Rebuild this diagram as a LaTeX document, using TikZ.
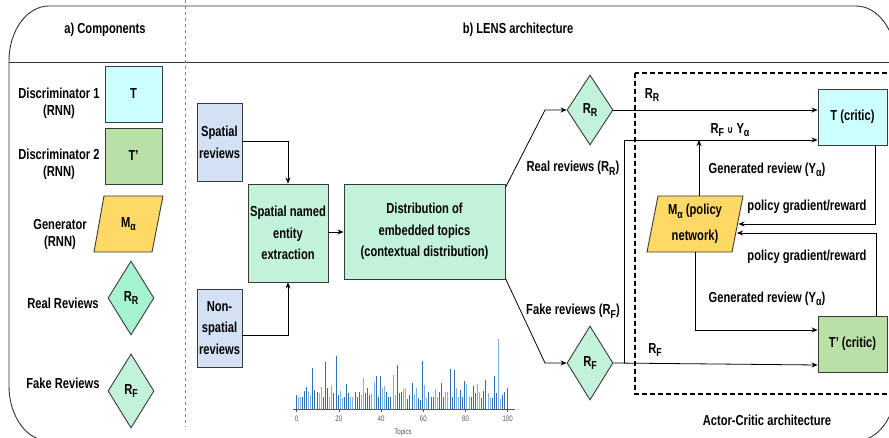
\documentclass[tikz,border=0pt]{standalone}
\usepackage{fontspec}
\setmainfont{Liberation Sans}[FakeStretch=0.77]
\newfontfamily\djv{DejaVu Sans}[FakeStretch=0.77]
\usetikzlibrary{shapes.geometric,arrows.meta,calc}

\definecolor{cyanc}{HTML}{CCFFFF}
\definecolor{greenc}{HTML}{B9E0A5}
\definecolor{yellowc}{HTML}{FFD966}
\definecolor{rrc}{HTML}{A6F3CF}
\definecolor{mintc}{HTML}{C3F2DA}
\definecolor{bluec}{HTML}{D4E1F5}
\definecolor{bordc}{HTML}{3A3A3A}
\definecolor{framec}{HTML}{333333}
\definecolor{barA}{HTML}{2E6FB7}
\definecolor{barB}{HTML}{4F91D2}
\definecolor{barC}{HTML}{7FB3E6}
\definecolor{axisc}{HTML}{555555}

\newcommand\subs[1]{\raisebox{-3.5pt}{\fontsize{11.5}{12}\selectfont #1}}

\tikzset{
  every node/.style={font=\bfseries\fontsize{14.5}{17}\selectfont, inner sep=0pt},
  lbl/.style={align=center},
  boxed/.style={draw=bordc, line width=0.9pt, align=center, font=\bfseries\fontsize{14.5}{21.7}\selectfont},
  dia/.style={diamond, draw=bordc, line width=0.9pt, fill=mintc},
  arr/.style={draw=black, line width=0.8pt, -{Stealth[length=6pt,width=5pt]}},
  para/.style={draw=bordc, line width=0.9pt, fill=yellowc},
  ticklbl/.style={font=\fontsize{8}{8}\selectfont, text=axisc}
}

\begin{document}
\begin{tikzpicture}[x=1pt,y=-1pt]
\useasboundingbox (0,0) rectangle (889,438);
\clip (0,0) rectangle (889,438);

% outer frame
\draw[framec, line width=0.9pt] (49,6) -- (856,6)
  .. controls (878.1,6) and (896,30.6) .. (896,61) -- (896,386)
  .. controls (896,416.4) and (878.1,441) .. (856,441) -- (49,441)
  .. controls (26.9,441) and (9,416.4) .. (9,386) -- (9,61)
  .. controls (9,30.6) and (26.9,6) .. (49,6) -- cycle;
\draw[framec, line width=0.9pt] (9,62) -- (896,62);
\draw[gray, line width=0.6pt, dash pattern=on 3pt off 3pt] (185.5,0) -- (185.5,427);

% headers
\node[lbl] (hA) at (105,30) {a) Components};
\node[lbl] (hB) at (518,30) {b) LENS architecture};

% components
\node[lbl] (l1) at (59,103.5) {Discriminator 1\\(RNN)};
\node[lbl] (l2) at (59,164) {Discriminator 2\\(RNN)};
\node[lbl] (l3) at (60,234) {Generator\\(RNN)};
\node[lbl] (l4) at (63,303) {Real Reviews};
\node[lbl] (l5) at (63,383) {Fake Reviews};

\node[boxed, fill=cyanc, minimum width=57pt, minimum height=56pt] (cT) at (133.5,94) {T};
\node[boxed, fill=greenc, minimum width=57pt, minimum height=56pt] (cTp) at (133.5,156) {T'};
\path[para] (104,196) -- (163,196) -- (152,252) -- (94,252) -- cycle;
\node (cM) at (128.5,224) {M\subs{α}};
\node[dia, fill=rrc, minimum width=46pt, minimum height=74pt] (cRR) at (131,298) {R\subs{R}};
\node[dia, minimum width=46pt, minimum height=74pt] (cRF) at (131,391) {R\subs{F}};

% pipeline
\node[boxed, fill=bluec, minimum width=45pt, minimum height=78pt] (SR) at (219.5,142) {Spatial\\reviews};
\node[boxed, fill=bluec, minimum width=45pt, minimum height=78pt] (NSR) at (219.5,328) {Non-\\spatial\\reviews};
\node[boxed, fill=mintc, minimum width=80pt, minimum height=98pt] (SNE) at (288,233) {Spatial named\\entity\\extraction};
\node[boxed, fill=mintc, minimum width=161pt, minimum height=95pt] (Dist) at (424.5,231.5) {Distribution of\\embedded topics\\(contextual distribution)};

\draw[arr] ($(SR.east)+(0,-1)$) -| (SNE.north);
\draw[arr] ($(NSR.east)+(0,7)$) -| (SNE.south);
\draw[arr] (SNE.east |- 0,232) -- (Dist.west |- 0,232);

\node[dia, minimum width=46pt, minimum height=70pt] (RR) at (590,110) {R\subs{R}};
\node[dia, minimum width=46pt, minimum height=74pt] (RF) at (590,363) {R\subs{F}};
\coordinate (kR) at (545,110);
\coordinate (kF) at (545,363);
\draw[arr] ($(Dist.north east)+(0,4)$) -- (kR) -- (RR.west);
\draw[arr] ($(Dist.south east)+(0,-1)$) -- (kF) -- (RF.west);
\node[lbl] (rrl) at (573,168) {Real reviews (R\subs{R})};
\node[lbl] (rfl) at (573,311) {Fake reviews (R\subs{F})};

% actor-critic
\draw[black, line width=1.1pt, dash pattern=on 5pt off 3pt] (635,73) rectangle (900,394);
\node[lbl] (acl) at (767,420) {Actor-Critic architecture};

\node[boxed, fill=cyanc, minimum width=69pt, minimum height=56pt] (Tc) at (852.5,117) {T (critic)};
\node[boxed, fill=greenc, minimum width=69pt, minimum height=56pt] (Tpc) at (852.5,344) {T' (critic)};
\path[para] (658,196) -- (743,196) -- (732,252) -- (647,252) -- cycle;
\node[lbl, font=\bfseries\fontsize{14.5}{26}\selectfont] (Mp) at (695,224) {M\subs{α} (policy\\network)};
\coordinate (Mtop) at (699,196);
\coordinate (Mbot) at (695,252);
\coordinate (Mr1) at (738.5,224);
\coordinate (Mr2) at (737,233);

\draw[arr] (RR.east) -- (RR.east -| Tc.west);
\draw[arr] (RF.east) -- ($(Tpc.west)+(0,21)$);
\coordinate (j1) at (624,363);
\coordinate (j2) at (624,140);
\draw[arr] (j1) -- (j2) -- (j2 -| Tc.west);
\draw[arr] (Mtop) -- (Mtop |- j2);
\coordinate (pg1) at ($(Tc.south east)+(-12,0)$);
\coordinate (pg2) at ($(Tpc.north east)+(-11,0)$);
\draw[arr] (pg1) |- (Mr1);
\draw[arr] (pg2) |- (Mr2);
\draw[arr] (Mbot) |- ($(Tpc.west)+(0,-14)$);

\node[lbl] (lRR) at (652,95) {R\subs{R}};
\node[lbl] (lRFY) at (730,130) {R\subs{F} {\djv\fontsize{10}{10}\selectfont ∪} Y\subs{α}};
\node[lbl] (lG1) at (767,170) {Generated review (Y\subs{α})};
\node[lbl] (lP1) at (807,207) {policy gradient/reward};
\node[lbl] (lP2) at (807,257) {policy gradient/reward};
\node[lbl] (lG2) at (767,299) {Generated review (Y\subs{α})};
\node[lbl] (lRF) at (655,350) {R\subs{F}};

% bar chart
\foreach \v [count=\i from 0] in {285,292,292,292,272,262,277,285,205,270,277,280,262,290,187,263,290,255,278,167,285,272,295,290,252,278,292,292,275,292,275,285,234,278,265,285,283,246,227,292,227,263,258,276,290,290,224,285,195,280,275,268,263,297,285,250,282,265,293,300,183,255,295,277,292,290,268,290,277,250,290,275,275,208,290,210,263,290,270,290,243,253,292,290,258,280,252,275,295,273,240,280,290,293,227,280,117,297,285,275,265}{
  \pgfmathtruncatemacro\bx{296+2.11*\i}
  \pgfmathsetmacro\bh{(327-\v)/3}
  \pgfmathtruncatemacro\mycc{mod(\i*\i+2*\i+1,5)}
  \ifnum\mycc<2 \def\mybar{barA}\else\ifnum\mycc<4 \def\mybar{barB}\else\def\mybar{barC}\fi\fi
  \fill[fill=\mybar] (\bx,409) rectangle (\bx+1.4,409-\bh);
}
\draw[axisc, line width=0.8pt] (293,409) -- (515,409);
\foreach \k in {0,20,40,60,80,100}{
  \pgfmathsetmacro\tx{296.7+2.11*\k}
  \draw[axisc, line width=0.5pt] (\tx,409) -- (\tx,412);
  \node[ticklbl] (t\k) at (\tx,419) {\k};
}
\node[ticklbl] (topics) at (403,432) {Topics};
\end{tikzpicture}
\end{document}
